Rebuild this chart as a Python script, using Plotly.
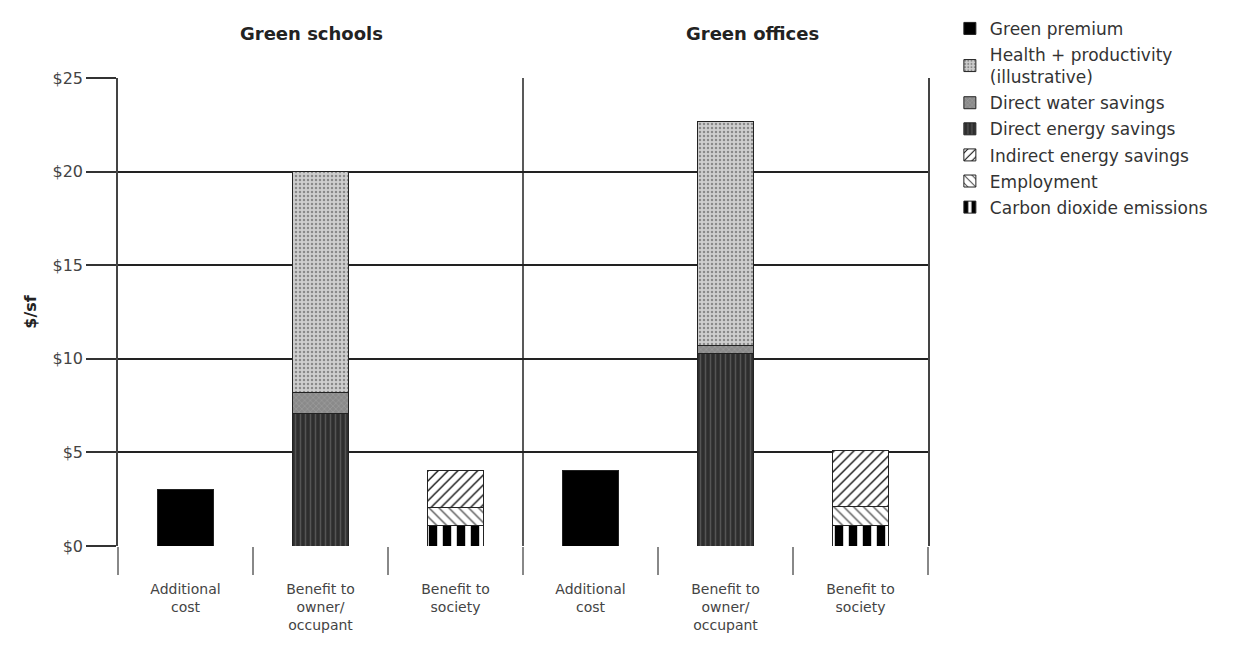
import plotly.graph_objects as go

# ---- data ----
categories = ["Additional<br>cost", "Benefit to<br>owner/<br>occupant", "Benefit to<br>society",
              "Additional<br>cost", "Benefit to<br>owner/<br>occupant", "Benefit to<br>society"]
x_pos = [0, 1, 2, 3, 4, 5]
groups = ["Green schools", "Green offices"]

green_premium = [3.0, 0, 0, 4.05, 0, 0]
health_productivity = [0, 11.8, 0, 0, 12.0, 0]
direct_water = [0, 1.1, 0, 0, 0.4, 0]
direct_energy = [0, 7.1, 0, 0, 10.3, 0]
indirect_energy = [0, 0, 2.0, 0, 0, 3.0]
employment = [0, 0, 0.95, 0, 0, 1.0]
carbon = [0, 0, 1.1, 0, 0, 1.1]

y_ticks = [0, 5, 10, 15, 20, 25]
y_ticktext = ["$0", "$5", "$10", "$15", "$20", "$25"]
boundaries = [-0.5, 0.5, 1.5, 2.5, 3.5, 4.5, 5.5]

FONT = "DejaVu Sans, Verdana, sans-serif"

fig = go.Figure()

def add(name, vals, color, rank, shape="", fg=None, size=8, sol=0.3):
    pattern = dict(shape=shape, fgcolor=fg or color, fgopacity=1, size=size, solidity=sol) if shape else None
    fig.add_trace(go.Bar(
        x=x_pos, y=vals, name=name, width=0.41, legendgroup=name, legendrank=rank,
        marker=dict(color=color, line=dict(color="#222", width=1), pattern=pattern),
        hoverinfo="skip"))

# stacking order (bottom first)
add("Carbon dioxide emissions", carbon, "#ffffff", 7, "|", "#000000", 14, 0.6)
add("Employment", employment, "#ffffff", 6, "\\", "#555555", 7, 0.2)
add("Indirect energy savings", indirect_energy, "#ffffff", 5, "/", "#111111", 7, 0.2)
add("Direct energy savings", direct_energy, "#2e2e2e", 4, "|", "#555555", 5, 0.3)
add("Direct water savings", direct_water, "#8a8a8a", 3, "x", "#aaaaaa", 4, 0.2)
add("Health + productivity<br>(illustrative)", health_productivity, "#cfcfcf", 2, ".", "#8a8a8a", 4, 0.3)
add("Green premium", green_premium, "#000000", 1)

# group titles
fig.add_annotation(text="<b>" + groups[0] + "</b>", x=0.239, y=1.121, xref="paper", yref="paper",
                   xanchor="center", showarrow=False, font=dict(size=18, color="#222", family=FONT))
fig.add_annotation(text="<b>" + groups[1] + "</b>", x=0.783, y=1.121, xref="paper", yref="paper",
                   xanchor="center", showarrow=False, font=dict(size=18, color="#222", family=FONT))

# group divider
fig.add_shape(type="line", x0=boundaries[3], x1=boundaries[3], y0=0, y1=1, xref="x", yref="paper",
              line=dict(color="#222", width=1.5))

fig.update_layout(
    width=1255, height=656,
    margin=dict(l=118, r=327, t=77, b=110),
    barmode="stack",
    plot_bgcolor="white", paper_bgcolor="white",
    font=dict(family=FONT, size=14, color="#333"),
    showlegend=True,
    legend=dict(x=1.027, y=1.141, xanchor="left", yanchor="top", traceorder="grouped",
                tracegroupgap=1,
                font=dict(size=17, color="#333", family=FONT), bgcolor="rgba(0,0,0,0)"),
    xaxis=dict(range=[-0.5, 5.5], tickvals=x_pos, ticktext=categories, ticks="",
               showgrid=False, zeroline=False, showline=False,
               ticklabelstandoff=33,
               tickfont=dict(size=14, color="#444"),
               minor=dict(tickvals=boundaries, ticks="outside", ticklen=28, tickwidth=1.5,
                          tickcolor="#888", showgrid=False)),
    yaxis=dict(range=[0, 25], tickvals=y_ticks, ticktext=y_ticktext,
               showgrid=True, gridcolor="#222", gridwidth=2,
               ticks="outside", ticklen=30, tickwidth=2, tickcolor="#333",
               showline=True, linecolor="#444", linewidth=1.5, mirror=True,
               zeroline=False, tickfont=dict(size=16, color="#444"),
               title=dict(text="<b>$/sf</b>", font=dict(size=16, color="#222"), standoff=12)),
)

fig.write_html("out.html")
